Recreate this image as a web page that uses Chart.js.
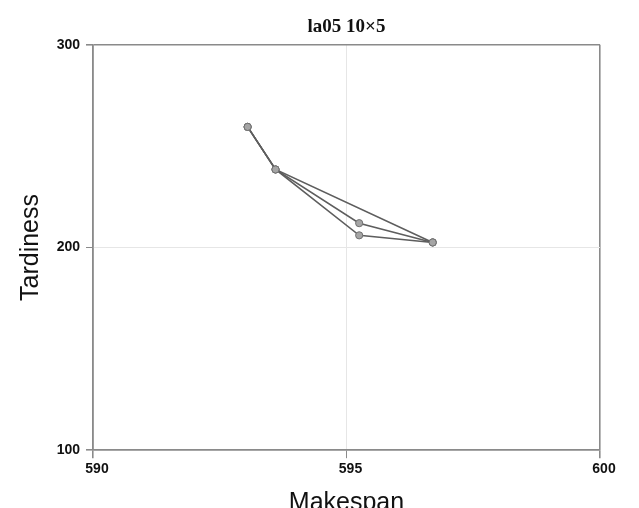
<!DOCTYPE html>
<html>
<head>
<meta charset="utf-8">
<script src="https://cdn.jsdelivr.net/npm/chart.js@4/dist/chart.umd.min.js"></script>
<style>
  html, body { margin: 0; padding: 0; background: #fff; overflow: hidden; }
  #wrap { width: 639px; height: 522px; position: relative; }
</style>
</head>
<body>
<div id="wrap"><canvas id="paretoChart"></canvas></div>
<script>
// values
const xTicks = [590, 595, 600];
const yTicks = [100, 200, 300];

const runAMakespan = [593.05, 593.6, 596.7];
const runATardiness = [259.5, 238.5, 202.5];
const runBMakespan = [593.05, 593.6, 595.25, 596.7];
const runBTardiness = [259.5, 238.5, 212, 202.5];
const runCMakespan = [593.05, 593.6, 595.25, 596.7];
const runCTardiness = [259.5, 238.5, 206, 202.5];

const toPoints = (xs, ys) => xs.map((x, i) => ({ x: x, y: ys[i] }));

const axisGray = '#8a8a8a';
const lineStyle = {
    showLine: true,
    borderColor: '#5e5e5e',
    borderWidth: 1.6,
    pointRadius: 3.6,
    pointBackgroundColor: '#a5a5a5',
    pointBorderColor: '#707070',
    pointBorderWidth: 1,
    fill: false
};

document.addEventListener('DOMContentLoaded', () => {
    const ctx = document.getElementById('paretoChart').getContext('2d');
    new Chart(ctx, {
        type: 'scatter',
        data: {
            datasets: [
                Object.assign({ label: 'A', data: toPoints(runAMakespan, runATardiness) }, lineStyle),
                Object.assign({ label: 'B', data: toPoints(runBMakespan, runBTardiness) }, lineStyle),
                Object.assign({ label: 'C', data: toPoints(runCMakespan, runCTardiness) }, lineStyle)
            ]
        },
        options: {
            responsive: true,
            maintainAspectRatio: false,
            animation: false,
            layout: { padding: { left: 0, right: 39, top: 0, bottom: 0 } },
            plugins: {
                legend: { display: false },
                tooltip: { enabled: false },
                title: {
                    display: true,
                    fullSize: false,
                    text: 'la05 10×5',
                    color: '#111',
                    font: { family: 'Liberation Serif', size: 19, weight: 'bold' },
                    padding: { top: 16, bottom: 6 }
                }
            },
            scales: {
                x: {
                    type: 'linear',
                    min: xTicks[0],
                    max: xTicks[xTicks.length - 1],
                    afterBuildTicks: s => { s.ticks = xTicks.map(v => ({ value: v })); },
                    border: { display: true, color: axisGray, width: 1.6 },
                    grid: {
                        color: c => (c.tick && c.tick.value === 595 ? '#e6e6e6' : axisGray),
                        lineWidth: c => (c.tick && c.tick.value === 595 ? 1 : 1.6),
                        tickColor: axisGray,
                        tickLength: 8
                    },
                    ticks: {
                        color: '#111',
                        padding: 3,
                        labelOffset: 4,
                        font: { family: 'Liberation Sans', size: 14, weight: 'bold' }
                    },
                    title: {
                        display: true,
                        text: 'Makespan',
                        color: '#111',
                        font: { family: 'Liberation Sans', size: 25 },
                        padding: { top: 7, bottom: 4 }
                    }
                },
                y: {
                    type: 'linear',
                    min: yTicks[0],
                    max: yTicks[yTicks.length - 1],
                    afterBuildTicks: s => { s.ticks = yTicks.map(v => ({ value: v })); },
                    afterFit: s => { s.width = 93; },
                    border: { display: true, color: axisGray, width: 1.6 },
                    grid: {
                        color: c => (c.tick && c.tick.value === 200 ? '#e6e6e6' : axisGray),
                        lineWidth: c => (c.tick && c.tick.value === 200 ? 1 : 1.6),
                        tickColor: axisGray,
                        tickLength: 7
                    },
                    ticks: {
                        color: '#111',
                        padding: 6,
                        font: { family: 'Liberation Sans', size: 14, weight: 'bold' }
                    },
                    title: {
                        display: true,
                        text: 'Tardiness',
                        color: '#111',
                        font: { family: 'Liberation Sans', size: 25 },
                        padding: { top: 16, bottom: 4 }
                    }
                }
            }
        }
    });
});
</script>
</body>
</html>
